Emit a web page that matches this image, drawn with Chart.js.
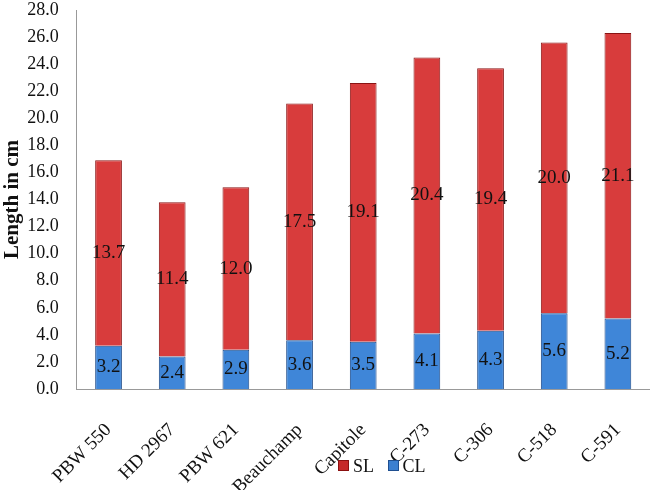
<!DOCTYPE html>
<html>
<head>
<meta charset="utf-8">
<script src="https://cdn.jsdelivr.net/npm/chart.js@4"></script>
<style>
  body { margin: 0; background: #fff; }
  #wrap { position: relative; width: 656px; height: 490px; }
  #legend {
    position: absolute; left: 338px; top: 456px;
    font-family: "Liberation Serif", serif; font-size: 18px; color: #111;
  }
  #legend span.box { display: inline-block; width: 9px; height: 9px; margin-right: 4px; vertical-align: 1px; }
</style>
</head>
<body>
<div id="wrap">
  <canvas id="chart" width="656" height="490"></canvas>
  <div id="legend">
    <span class="box" style="background:#c62828;border:1px solid #8a1010"></span>SL&nbsp;&nbsp;
    <span class="box" style="background:#3b7fd0;border:1px solid #1f4f90"></span>CL
  </div>
</div>
<script>
const varieties = ["PBW 550", "HD 2967", "PBW 621", "Beauchamp", "Capitole", "C-273", "C-306", "C-518", "C-591"];
const clValues = [3.2, 2.4, 2.9, 3.6, 3.5, 4.1, 4.3, 5.6, 5.2];
const slValues = [13.7, 11.4, 12.0, 17.5, 19.1, 20.4, 19.4, 20.0, 21.1];

// horizontal gradient per bar to get the shaded look
function barGradient(ctx, edge, mid) {
    const chart = ctx.chart;
    const el = ctx.element;
    if (!chart.chartArea || !el || el.width == null) return mid;
    const x0 = el.x - el.width / 2;
    const x1 = el.x + el.width / 2;
    const g = chart.ctx.createLinearGradient(x0, 0, x1, 0);
    g.addColorStop(0, edge);
    g.addColorStop(0.25, mid);
    g.addColorStop(0.75, mid);
    g.addColorStop(1, edge);
    return g;
}

// ---------------- VALUE LABELS ----------------
const valueLabels = {
    id: "valueLabels",
    afterDatasetsDraw(chart) {
        const ctx = chart.ctx;
        ctx.save();
        ctx.font = "19px 'Liberation Serif', serif";
        ctx.fillStyle = "#111";
        ctx.textAlign = "center";
        ctx.textBaseline = "middle";
        chart.data.datasets.forEach((ds, i) => {
            chart.getDatasetMeta(i).data.forEach((bar, j) => {
                const y = (bar.y + bar.base) / 2;
                ctx.fillText(ds.data[j].toFixed(1), bar.x, y);
            });
        });
        ctx.restore();
    }
};

new Chart(document.getElementById("chart"), {
    type: "bar",
    data: {
        labels: varieties,
        datasets: [
            {
                label: "CL",
                data: clValues,
                backgroundColor: c => barGradient(c, "#1f5aa8", "#3f86d8"),
                borderColor: "#1d4a88",
                borderWidth: 1,
                barPercentage: 0.42,
                categoryPercentage: 1
            },
            {
                label: "SL",
                data: slValues,
                backgroundColor: c => barGradient(c, "#a81e1e", "#d83c3c"),
                borderColor: "#8a1414",
                borderWidth: 1,
                barPercentage: 0.42,
                categoryPercentage: 1
            }
        ]
    },
    options: {
        responsive: false,
        animation: false,
        layout: { padding: { top: 10, right: 0, bottom: 0, left: 0 } },
        plugins: {
            legend: { display: false },
            tooltip: { enabled: false }
        },
        scales: {
            x: {
                stacked: true,
                afterFit: s => { s.height = 101; s.paddingBottom = 0; },
                grid: { display: false },
                border: { display: true, color: "#999" },
                ticks: {
                    color: "#111",
                    font: { family: "'Liberation Serif', serif", size: 19 },
                    minRotation: 45,
                    maxRotation: 45,
                    padding: 22
                }
            },
            y: {
                stacked: true,
                min: 0,
                max: 28,
                afterFit: s => { s.paddingTop = 0; s.paddingBottom = 0; },
                grid: { display: false, drawTicks: false },
                border: { display: true, color: "#999" },
                ticks: {
                    stepSize: 2,
                    color: "#111",
                    padding: 18,
                    font: { family: "'Liberation Serif', serif", size: 18 },
                    callback: v => v.toFixed(1)
                },
                title: {
                    display: true,
                    text: "Length in cm",
                    color: "#111",
                    font: { family: "'Liberation Serif', serif", size: 21, weight: "bold" },
                    padding: { top: 0, bottom: -16 }
                }
            }
        }
    },
    plugins: [valueLabels]
});
</script>
</body>
</html>
